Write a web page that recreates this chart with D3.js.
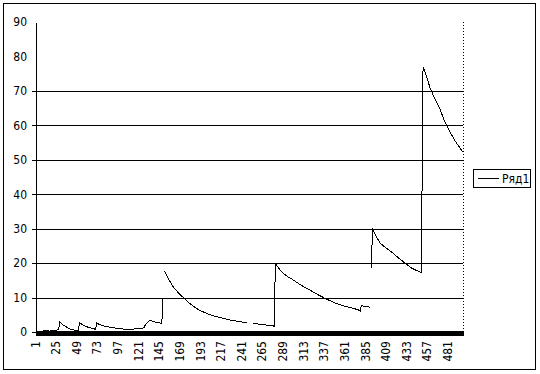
<!DOCTYPE html>
<html><head><meta charset="utf-8">
<script src="https://cdn.jsdelivr.net/npm/d3@7"></script>
<style>
body{margin:0;background:#fff}
text{font-family:"Liberation Sans Narrow","Arial Narrow","DejaVu Sans Condensed","Liberation Sans",Arial,sans-serif;fill:#000}
</style>
</head><body>
<svg id="c" width="540" height="374"></svg>
<script>
const categoryCount = 497;
const tickLabels = [1,25,49,73,97,121,145,169,193,217,241,265,289,313,337,361,385,409,433,457,481];
const yTickValues = [0,10,20,30,40,50,60,70,80,90];
const gridValues = [10,20,30,40,50,60,70];
const seriesName = "Ряд1";
const pointIndex = [
  1,7,13,16,19,23,26,27,28,32,37,41,46,50,51,56,62,68,70,71,
  76,82,89,96,104,111,115,121,126,128,132,135,140,145,147,148,149,
  150,155,160,166,172,178,184,191,199,208,218,228,238,246,247,
  253,261,270,276,278,279,285,292,300,309,319,329,339,348,358,366,372,377,378,379,382,389,390,
  391,392,396,401,408,416,422,428,433,438,444,449,450,451,455,459,465,471,476,482,488,494,497
];
const values = [
  0.1,0.2,0.5,0.2,0.6,0.4,0.7,0.9,2.9,2.0,1.3,0.8,0.5,0.5,2.7,1.9,1.3,0.9,0.8,2.6,
  2.0,1.6,1.3,1.0,0.8,0.7,0.9,1.0,1.2,2.2,3.2,3.2,2.8,2.6,2.5,10,null,
  17.8,15.3,13.2,11.4,10.0,8.6,7.4,6.3,5.4,4.6,4.0,3.4,3.0,2.7,null,
  2.6,2.2,2.0,1.9,1.6,20,17.8,16.3,15.1,13.6,12.2,10.8,9.5,8.5,7.6,7.1,6.7,6.3,6.1,7.6,7.5,7.2,null,
  18.5,29.9,28.0,25.8,24.4,22.9,21.6,20.4,19.4,18.5,17.8,17.2,47,77,74.3,71.0,67.5,64.5,61.2,58.2,55.6,53.4,52.4
];

const svg = d3.select("#c");
const L = 36, R = 463, T = 22, B = 332;
const x = d3.scaleLinear().domain([0.5, categoryCount + 0.5]).range([L, R]);
const y = d3.scaleLinear().domain([0, 90]).range([B, T]);

// outer border
svg.append("rect").attr("x",3.5).attr("y",3.5).attr("width",532).attr("height",366)
  .attr("fill","#fff").attr("stroke","#000").attr("stroke-width",1);

// gridlines
const grid = svg.append("g").attr("transform",`translate(${L},0)`)
  .call(d3.axisLeft(y).tickValues(gridValues).tickSize(-(R-L)).tickFormat(""));
grid.select(".domain").remove();
grid.selectAll("line").attr("stroke","#000").attr("shape-rendering","crispEdges");

// right dotted border
svg.append("line").attr("x1",R+0.5).attr("x2",R+0.5).attr("y1",T).attr("y2",B)
  .attr("stroke","#000").attr("stroke-dasharray","1,2").attr("shape-rendering","crispEdges");

// y axis
const ya = svg.append("g").attr("transform",`translate(${L},0)`)
  .call(d3.axisLeft(y).tickValues(yTickValues).tickSizeInner(4).tickSizeOuter(0).tickPadding(5));
ya.select(".domain").attr("stroke","#000").attr("shape-rendering","crispEdges");
ya.selectAll(".tick line").attr("stroke","#000").attr("shape-rendering","crispEdges")
  .filter(d => d > 70).remove();
ya.selectAll(".tick text").attr("font-size",12).attr("font-family",null);

// data line
const data = pointIndex.map((i,k) => ({i, v: values[k]}));
const line = d3.line().defined(d => d.v !== null).x(d => x(d.i)).y(d => y(d.v));
svg.append("path").datum(data).attr("d", line).attr("fill","none")
  .attr("stroke","#000").attr("stroke-width",1).attr("shape-rendering","crispEdges");

// thick category axis bar
svg.append("rect").attr("x",L).attr("y",y(0)-1).attr("width",R-L+1).attr("height",5).attr("fill","#000");

// x axis labels
const xa = svg.append("g").attr("transform",`translate(0,${B+4})`)
  .call(d3.axisBottom(x).tickValues(tickLabels).tickSize(0));
xa.select(".domain").remove();
xa.selectAll(".tick text").attr("font-size",12).attr("font-family",null)
  .attr("text-anchor","end").attr("transform","rotate(-90)")
  .attr("x",-5).attr("y",-1.5).attr("dy","0.35em");

// legend
const lg = svg.append("g");
lg.append("rect").attr("x",473.5).attr("y",169.5).attr("width",57).attr("height",18)
  .attr("fill","#fff").attr("stroke","#000");
lg.append("line").attr("x1",478).attr("x2",499).attr("y1",178.5).attr("y2",178.5).attr("stroke","#000");
lg.append("text").attr("x",502).attr("y",183).attr("font-size",12).text(seriesName);
</script>
</body></html>
